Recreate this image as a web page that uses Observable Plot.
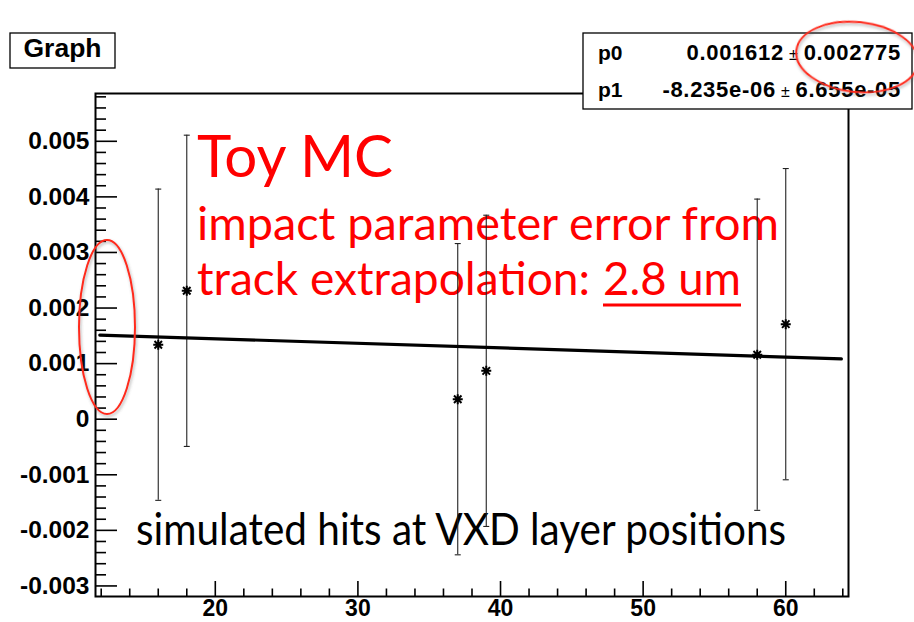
<!DOCTYPE html>
<html>
<head>
<meta charset="utf-8">
<script src="https://cdn.jsdelivr.net/npm/d3@7"></script>
<script src="https://cdn.jsdelivr.net/npm/@observablehq/plot@0.6"></script>
<style>
  html, body { margin: 0; padding: 0; background: white; }
  #wrap { position: relative; width: 914px; height: 622px; overflow: hidden; }
  #wrap > svg { position: absolute; left: 0; top: 0; }
</style>
</head>
<body>
<div id="wrap"></div>
<script>
// ---- data ----
const layerX = [16, 18, 37, 39, 58, 60];
const residual = [0.00134, 0.00231, 0.00036, 0.00087, 0.00116, 0.00171];
const residualErr = [0.0028, 0.0028, 0.0028, 0.0028, 0.0028, 0.0028];
const fitP0 = 0.001612;
const fitP1 = -8.235e-06;
const fitXRange = [11.9, 63.9];
const xTicks = [20, 30, 40, 50, 60];
const xTickLabels = ["20", "30", "40", "50", "60"];
const yTicks = [-0.003, -0.002, -0.001, 0, 0.001, 0.002, 0.003, 0.004, 0.005];
const yTickLabels = ["-0.003", "-0.002", "-0.001", "0", "0.001", "0.002", "0.003", "0.004", "0.005"];
const statNames = ["p0", "p1"];
const statValues = ["0.001612", "-8.235e-06"];
const statErrors = ["0.002775", "6.655e-05"];
const titleText = "Graph";
const noteLines = ["Toy MC", "impact parameter error from", "track extrapolation: ", "2.8 um"];
const bottomNote = "simulated hits at VXD layer positions";

// ---- layout ----
const W = 914, H = 622;
const mL = 95, mR = 66, mT = 93, mB = 26;
const frameW = W - mL - mR, frameH = H - mT - mB;
const xDomain = [11.6, 64.4];
const yDomain = [-0.00319, 0.00586];

const points = layerX.map((x, i) => ({x, y: residual[i], e: residualErr[i]}));
const fitPts = fitXRange.map(x => ({x, y: fitP0 + fitP1 * x}));

const xMinor = d3.range(12, 65, 2).filter(v => !xTicks.includes(v));
const yMinor = d3.range(-15, 30).map(k => +(k * 0.0002).toFixed(4))
  .filter(v => v > yDomain[0] && v < yDomain[1] && !yTicks.some(t => Math.abs(t - v) < 1e-9));

const hbar = {draw(ctx, size) { const r = Math.sqrt(size / Math.PI); ctx.moveTo(-r, 0); ctx.lineTo(r, 0); }};
const star = {draw(ctx, size) {
  const r = Math.sqrt(size / Math.PI), q = r * 0.75;
  ctx.moveTo(-r, 0); ctx.lineTo(r, 0);
  ctx.moveTo(0, -r); ctx.lineTo(0, r);
  ctx.moveTo(-q, -q); ctx.lineTo(q, q);
  ctx.moveTo(-q, q); ctx.lineTo(q, -q);
}};

const NS = "http://www.w3.org/2000/svg";
function svgLayer() {
  const s = document.createElementNS(NS, "svg");
  s.setAttribute("width", W); s.setAttribute("height", H);
  s.setAttribute("viewBox", `0 0 ${W} ${H}`);
  return s;
}
function el(tag, attrs, parent, text) {
  const e = document.createElementNS(NS, tag);
  for (const k in attrs) e.setAttribute(k, attrs[k]);
  if (text != null) e.textContent = text;
  if (parent) parent.appendChild(e);
  return e;
}

const wrap = document.getElementById("wrap");
const slideFont = "Lato, 'Open Sans', sans-serif";

// bottom layer: slide annotations text
const under = svgLayer();
el("text", {x: 197, y: 177, fill: "#ff0000", "font-family": slideFont, "font-size": 58,
  textLength: 196, lengthAdjust: "spacingAndGlyphs"}, under, noteLines[0]);
el("text", {x: 197, y: 240, fill: "#ff0000", "font-family": slideFont, "font-size": 46,
  textLength: 582, lengthAdjust: "spacingAndGlyphs"}, under, noteLines[1]);
el("text", {x: 197, y: 295, fill: "#ff0000", "font-family": slideFont, "font-size": 46,
  textLength: 393, lengthAdjust: "spacingAndGlyphs"}, under, noteLines[2]);
el("text", {x: 603, y: 295, fill: "#ff0000", "font-family": slideFont, "font-size": 46,
  textLength: 138, lengthAdjust: "spacingAndGlyphs"}, under, noteLines[3]);
el("line", {x1: 603, x2: 741, y1: 305, y2: 305, stroke: "#ff0000", "stroke-width": 2.8}, under);
el("text", {x: 136, y: 545, fill: "#000", "font-family": slideFont, "font-size": 44,
  textLength: 650, lengthAdjust: "spacingAndGlyphs"}, under, bottomNote);
wrap.appendChild(under);

// chart
const chart = Plot.plot({
  width: W, height: H,
  marginLeft: mL, marginRight: mR, marginTop: mT, marginBottom: mB,
  x: {domain: xDomain, label: null},
  y: {domain: yDomain, label: null},
  style: {fontFamily: "'Liberation Sans', Arial, Helvetica, sans-serif", fontSize: "24px", fontWeight: "bold",
    color: "black", background: "transparent", overflow: "visible"},
  marks: [
    Plot.tickX(xTicks, {x: d => d, insetTop: frameH - 15, stroke: "black", strokeWidth: 1.6}),
    Plot.tickX(xMinor, {x: d => d, insetTop: frameH - 7.5, stroke: "black", strokeWidth: 1.6}),
    Plot.tickY(yTicks, {y: d => d, insetRight: frameW - 22, stroke: "black", strokeWidth: 1.6}),
    Plot.tickY(yMinor, {y: d => d, insetRight: frameW - 11, stroke: "black", strokeWidth: 1.6}),
    Plot.axisX(xTicks, {anchor: "bottom", tickSize: 0, tickPadding: 3, label: null, fontSize: 23, fontWeight: "bold",
      tickFormat: d => xTickLabels[xTicks.indexOf(d)]}),
    Plot.axisY(yTicks, {anchor: "left", tickSize: 0, tickPadding: 6, label: null, fontSize: 24.5, fontWeight: "bold",
      tickFormat: d => yTickLabels[yTicks.indexOf(d)]}),
    Plot.ruleX(points, {x: "x", y1: d => d.y - d.e, y2: d => d.y + d.e, stroke: "#222", strokeWidth: 1.1}),
    Plot.dot(points, {x: "x", y: d => d.y + d.e, symbol: hbar, r: 3, fill: "none", stroke: "#222", strokeWidth: 1.1}),
    Plot.dot(points, {x: "x", y: d => d.y - d.e, symbol: hbar, r: 3, fill: "none", stroke: "#222", strokeWidth: 1.1}),
    Plot.line(fitPts, {x: "x", y: "y", stroke: "black", strokeWidth: 3.2}),
    Plot.dot(points, {x: "x", y: "y", symbol: star, r: 5, fill: "none", stroke: "black", strokeWidth: 2}),
    Plot.frame({stroke: "black", strokeWidth: 2})
  ]
});
wrap.appendChild(chart);

// top layer: ROOT boxes and ellipses
const over = svgLayer();
const defs = el("defs", {}, over);
const f = el("filter", {id: "sh", x: "-20%", y: "-20%", width: "140%", height: "140%"}, defs);
el("feDropShadow", {dx: 1, dy: 2, stdDeviation: 1.5, "flood-color": "#555", "flood-opacity": 0.45}, f);

const rootFont = "'Liberation Sans', Arial, sans-serif";
// title box
el("rect", {x: 10, y: 33, width: 105, height: 35, fill: "white", stroke: "black", "stroke-width": 1.3}, over);
el("text", {x: 62.5, y: 57, "text-anchor": "middle", "font-family": rootFont,
  "font-weight": "bold", "font-size": 26.5}, over, titleText);

// stats box
el("rect", {x: 583, y: 33, width: 329, height: 76, fill: "white", stroke: "black", "stroke-width": 1.3}, over);
statNames.forEach((n, i) => {
  const yb = 60 + i * 37;
  el("text", {x: 598, y: yb, "font-family": rootFont, "font-weight": "bold", "font-size": 21}, over, n);
  const t = el("text", {x: 901, y: yb, "text-anchor": "end", "font-family": rootFont,
    "font-weight": "bold", "font-size": 22, "letter-spacing": 0.7}, over);
  el("tspan", {}, t, statValues[i]);
  el("tspan", {"font-weight": "normal", "font-size": 16}, t, " \u00b1 ");
  el("tspan", {}, t, statErrors[i]);
});

// red ellipses
el("ellipse", {cx: 107, cy: 327, rx: 28, ry: 87, fill: "none", stroke: "#ff2a1a", "stroke-width": 2, filter: "url(#sh)"}, over);
el("ellipse", {cx: 857, cy: 57, rx: 61, ry: 35, fill: "none", stroke: "#ff2a1a", "stroke-width": 2, filter: "url(#sh)",
  transform: "rotate(6 857 57)"}, over);
wrap.appendChild(over);
</script>
</body>
</html>
